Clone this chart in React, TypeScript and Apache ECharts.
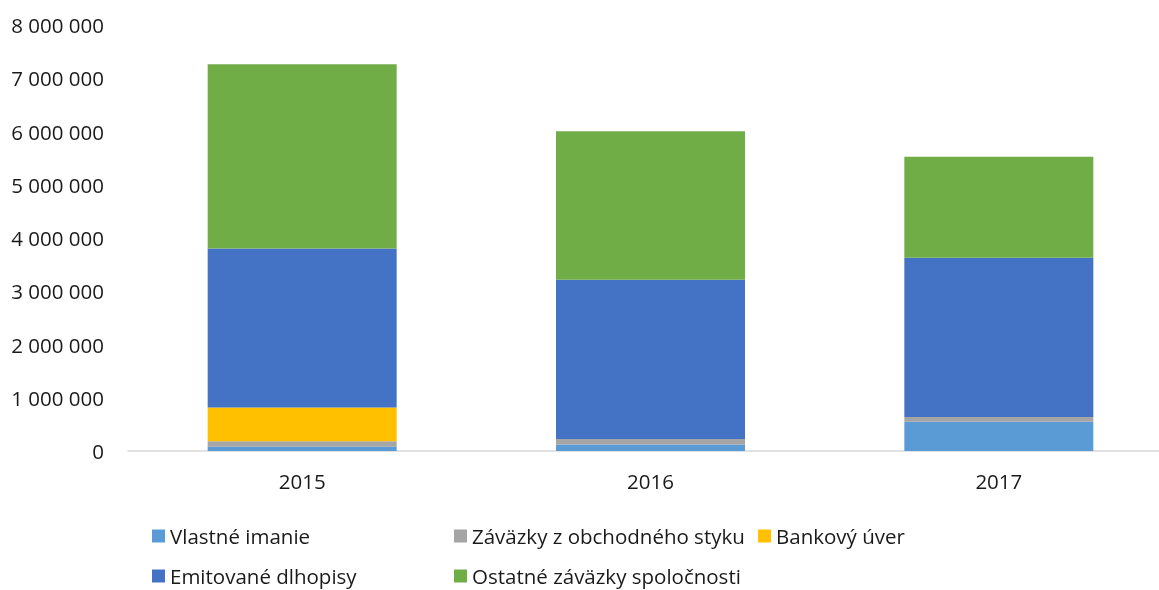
import React, { useEffect, useRef } from "react";
import * as echarts from "echarts";

const categories = ["2015", "2016", "2017"];
const vlastneImanie = [80000, 120000, 550000];
const zavazkyObchodne = [105000, 105000, 88000];
const bankovyUver = [630000, 0, 0];
const emitovaneDlhopisy = [2990000, 2990000, 2990000];
const ostatneZavazky = [3460000, 2790000, 1900000];
const yTicks = [0, 1000000, 2000000, 3000000, 4000000, 5000000, 6000000, 7000000, 8000000];

const seriesNames = [
  "Vlastné imanie",
  "Záväzky z obchodného styku",
  "Bankový úver",
  "Emitované dlhopisy",
  "Ostatné záväzky spoločnosti",
];
const seriesData = [vlastneImanie, zavazkyObchodne, bankovyUver, emitovaneDlhopisy, ostatneZavazky];
const colors = ["#5B9BD5", "#A5A5A5", "#FFC000", "#4472C4", "#70AD47"];

const FONT = "'Open Sans', sans-serif";
const TEXT = "#1a1a1a";
const FS = 20.5;

function fmt(v: number): string {
  return String(Math.round(v)).replace(/\B(?=(\d{3})+(?!\d))/g, " ");
}

export default function App() {
  const ref = useRef<HTMLDivElement>(null);
  useEffect(() => {
    if (!ref.current) return;
    const chart = echarts.init(ref.current, null, { renderer: "svg" });
    const legendPos = [
      { left: 152, top: 525 },
      { left: 454, top: 525 },
      { left: 758, top: 525 },
      { left: 152, top: 565 },
      { left: 454, top: 565 },
    ];
    chart.setOption({
      animation: false,
      textStyle: { fontFamily: FONT },
      grid: {
        left: 128,
        top: 25,
        width: 1045,
        height: 426,
        containLabel: false,
        outerBoundsMode: "none",
      },
      legend: seriesNames.map((n, i) => ({
        data: [n],
        left: legendPos[i].left,
        top: legendPos[i].top,
        icon: "rect",
        itemWidth: 13,
        itemHeight: 13,
        itemGap: 0,
        textStyle: { fontFamily: FONT, fontSize: FS, lineHeight: 22, color: TEXT },
        padding: 0,
        selectedMode: false,
      })),
      xAxis: {
        type: "category",
        data: categories,
        axisLine: { show: true, lineStyle: { color: "#D9D9D9", width: 1.5 } },
        axisTick: { show: false },
        axisLabel: { fontFamily: FONT, fontSize: FS, color: TEXT, margin: 19 },
      },
      yAxis: {
        type: "value",
        min: yTicks[0],
        max: yTicks[yTicks.length - 1],
        interval: yTicks[1] - yTicks[0],
        splitLine: { show: false },
        axisLine: { show: false },
        axisTick: { show: false },
        axisLabel: { fontFamily: FONT, fontSize: FS, color: TEXT, margin: 24, formatter: (v: number) => fmt(v) },
      },
      series: seriesNames.map((n, i) => ({
        name: n,
        type: "bar",
        stack: "total",
        data: seriesData[i],
        barWidth: 189,
        itemStyle: { color: colors[i] },
      })),
    });
    return () => chart.dispose();
  }, []);
  return (
    <div
      ref={ref}
      style={{ position: "fixed", left: 0, top: 0, width: 1159, height: 590 }}
    />
  );
}
